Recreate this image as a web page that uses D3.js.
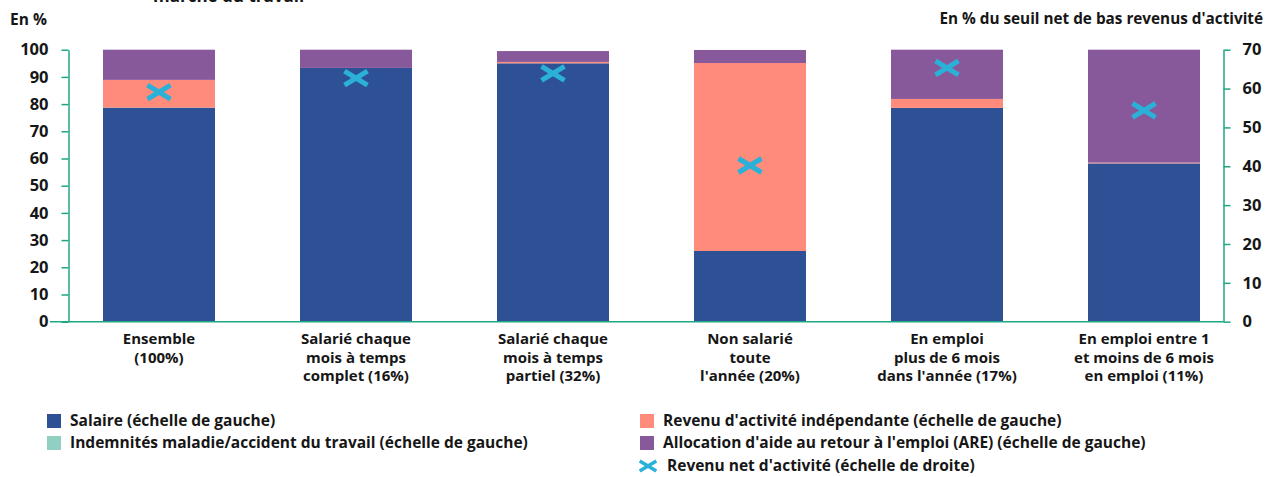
<!DOCTYPE html>
<html lang="fr">
<head>
<meta charset="utf-8">
<script src="https://cdn.jsdelivr.net/npm/d3@7"></script>
<style>
  html, body { margin: 0; padding: 0; background: #fff; }
  svg { display: block; font-family: "Open Sans", "DejaVu Sans", sans-serif; }
  text { fill: #161616; font-weight: 700; }
</style>
</head>
<body>
<svg id="chart" width="1271" height="477"></svg>
<script>
// Catégories (une ligne par élément du tableau)
const categories = [
  ["Ensemble", "(100%)"],
  ["Salarié chaque", "mois à temps", "complet (16%)"],
  ["Salarié chaque", "mois à temps", "partiel (32%)"],
  ["Non salarié", "toute", "l'année (20%)"],
  ["En emploi", "plus de 6 mois", "dans l'année (17%)"],
  ["En emploi entre 1", "et moins de 6 mois", "en emploi (11%)"]
];

// Composition du revenu, en % (échelle de gauche)
const salaire      = [78.7, 93.3, 95.0, 26.0, 78.6, 58.2];
const indemnites   = [0.0, 0.0, 0.0, 0.0, 0.0, 0.0];
const independant  = [10.2, 0.0, 0.5, 69.1, 3.3, 0.3];
const are          = [11.1, 6.7, 4.0, 4.8, 18.1, 41.5];

// Revenu net d'activité, en % du seuil (échelle de droite)
const revenuNet = [59.1, 62.7, 63.9, 40.2, 65.3, 54.4];

const leftTicks  = [0, 10, 20, 30, 40, 50, 60, 70, 80, 90, 100];
const rightTicks = [0, 10, 20, 30, 40, 50, 60, 70];

const seriesNames = [
  "Salaire (échelle de gauche)",
  "Indemnités maladie/accident du travail (échelle de gauche)",
  "Revenu d'activité indépendante (échelle de gauche)",
  "Allocation d'aide au retour à l'emploi (ARE) (échelle de gauche)"
];
const markerName = "Revenu net d'activité (échelle de droite)";

const colors = ["#2d5194", "#92cfc3", "#fe8b7b", "#87599b"];
const markerColor = "#2bb1d8";
const axisColor = "#1fa784";

const svg = d3.select("#chart");

const plot = { left: 68.5, right: 1223.5, top: 49.7, bottom: 321.7 };

const keys = categories.map(c => c.join(" "));
const x = d3.scaleBand()
  .domain(keys)
  .range([60.5, 1242.5])
  .paddingInner(0.4315)
  .paddingOuter(0.2157);

const yLeft = d3.scaleLinear().domain([0, 100]).range([plot.bottom, plot.top]);
const yRight = d3.scaleLinear().domain([0, 70]).range([plot.bottom, plot.top]);

// Empilement des composantes
const rows = keys.map((k, i) => ({
  key: k,
  s0: salaire[i], s1: indemnites[i], s2: independant[i], s3: are[i]
}));
const stack = d3.stack().keys(["s0", "s1", "s2", "s3"]);
const layers = stack(rows);

const gBars = svg.append("g");
layers.forEach((layer, li) => {
  gBars.append("g")
    .attr("fill", colors[li])
    .selectAll("rect")
    .data(layer.filter(d => d[1] - d[0] > 0))
    .join("rect")
    .attr("x", d => x(d.data.key))
    .attr("width", x.bandwidth())
    .attr("y", d => yLeft(d[1]))
    .attr("height", d => yLeft(d[0]) - yLeft(d[1]));
});

// Axe de gauche
const axL = svg.append("g")
  .attr("transform", `translate(${plot.left},0)`)
  .call(d3.axisLeft(yLeft).tickValues(leftTicks).tickSize(7).tickSizeOuter(0).tickPadding(13));
// Axe de droite
const axR = svg.append("g")
  .attr("transform", `translate(${plot.right},0)`)
  .call(d3.axisRight(yRight).tickValues(rightTicks).tickSize(7).tickSizeOuter(0).tickPadding(12));

[axL, axR].forEach(ax => {
  ax.selectAll("path.domain").attr("stroke", axisColor).attr("stroke-width", 1.5);
  ax.selectAll(".tick line").attr("stroke", axisColor).attr("stroke-width", 1.5);
  ax.selectAll(".tick text")
    .attr("font-size", 16.5)
    .attr("font-weight", 700)
    .attr("font-family", "'Open Sans', sans-serif")
    .attr("fill", "#161616");
});

// Ligne de base
svg.append("line")
  .attr("x1", 50).attr("x2", plot.right)
  .attr("y1", plot.bottom).attr("y2", plot.bottom)
  .attr("stroke", axisColor).attr("stroke-width", 1.5);

// Marqueurs en croix
const crossPath = "M-11.5,-7 L11.5,7 M-11.5,7 L11.5,-7";
svg.append("g")
  .selectAll("path")
  .data(revenuNet)
  .join("path")
  .attr("transform", (d, i) => `translate(${x(keys[i]) + x.bandwidth() / 2},${yRight(d)})`)
  .attr("d", crossPath)
  .attr("stroke", markerColor)
  .attr("stroke-width", 5)
  .attr("fill", "none");

// Libellés des catégories
const gLab = svg.append("g");
categories.forEach((lines, i) => {
  const t = gLab.append("text")
    .attr("text-anchor", "middle")
    .attr("font-size", 15);
  lines.forEach((ln, j) => {
    t.append("tspan")
      .attr("x", x(keys[i]) + x.bandwidth() / 2)
      .attr("y", 344 + j * 18.5)
      .text(ln);
  });
});

// Titres d'axes et titre
svg.append("text").attr("x", 10).attr("y", 25).attr("font-size", 15.5).text("En %");
svg.append("text").attr("x", 1263).attr("y", 24).attr("text-anchor", "end")
  .attr("font-size", 15.3).text("En % du seuil net de bas revenus d'activité");
svg.append("text").attr("x", 153).attr("y", 2).attr("font-size", 17).text("marché du travail");

// Légende
const legend = [
  { label: seriesNames[0], color: colors[0], x: 47, y: 421 },
  { label: seriesNames[1], color: colors[1], x: 47, y: 443 },
  { label: seriesNames[2], color: colors[2], x: 640, y: 421 },
  { label: seriesNames[3], color: colors[3], x: 640, y: 443 }
];
const gLeg = svg.append("g");
legend.forEach(l => {
  gLeg.append("rect").attr("x", l.x).attr("y", l.y - 7).attr("width", 14).attr("height", 14).attr("fill", l.color);
  gLeg.append("text").attr("x", l.x + 23).attr("y", l.y + 5).attr("font-size", 15.5).text(l.label);
});
gLeg.append("path")
  .attr("transform", "translate(648,466) scale(0.72)")
  .attr("d", crossPath)
  .attr("stroke", markerColor).attr("stroke-width", 5).attr("fill", "none");
gLeg.append("text").attr("x", 667).attr("y", 471).attr("font-size", 15.5).text(markerName);
</script>
</body>
</html>
